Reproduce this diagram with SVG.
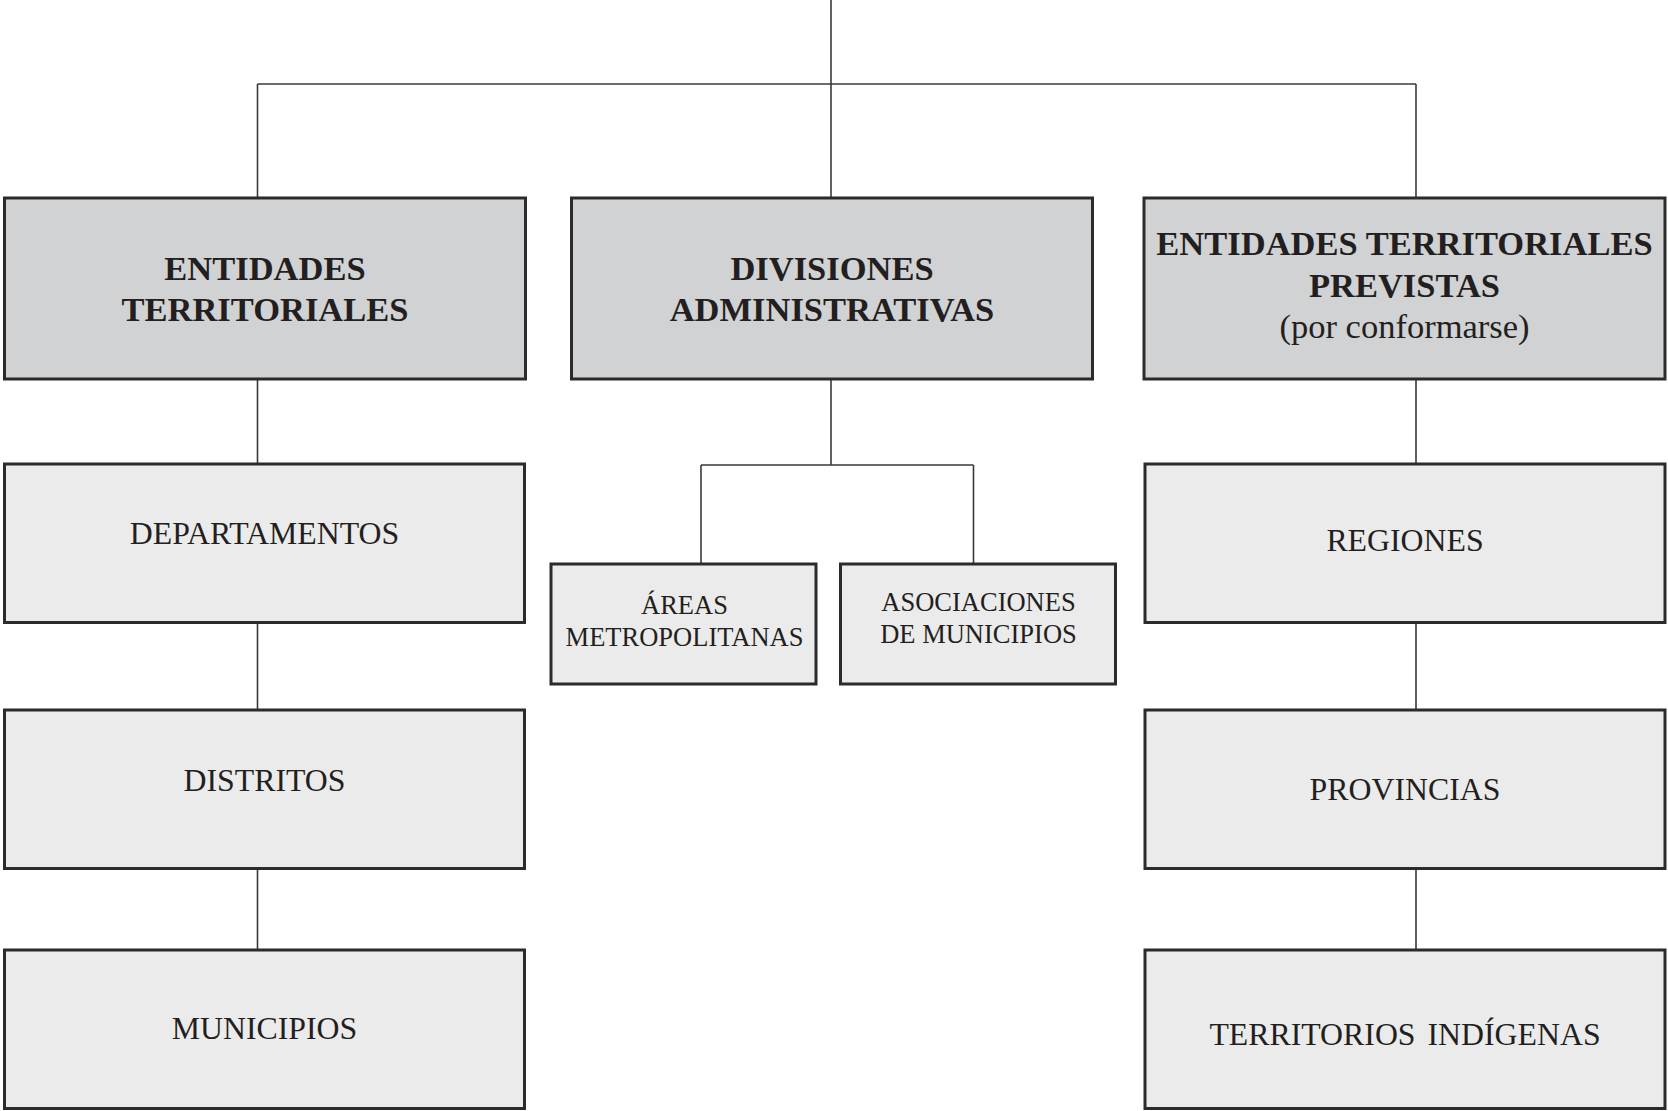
<svg xmlns="http://www.w3.org/2000/svg" width="1668" height="1111" viewBox="0 0 1668 1111">
  <style>
    .head { fill: #d1d2d4; stroke: #2b2b2b; stroke-width: 3; }
    .sub { fill: #ebebeb; stroke: #2b2b2b; stroke-width: 3; }
    .link { fill: none; stroke: #3a3a3a; stroke-width: 1.6; }
    text { font-family: "Liberation Serif", "Times New Roman", serif; fill: #231f20; text-anchor: middle; }
    .hb { font-size: 34.5px; font-weight: bold; }
    .hr { font-size: 34.5px; }
    .lv { font-size: 31.8px; }
    .sm { font-size: 26.5px; }
  </style>
  <rect width="1668" height="1111" fill="#ffffff"/>

  <!-- connectors -->
  <g id="connectors" class="link">
    <path d="M831 0 V198"/>
    <path d="M257.5 84 H1416"/>
    <path d="M257.5 84 V198"/>
    <path d="M1416 84 V198"/>
    <path d="M257.5 379 V464 M257.5 622 V710 M257.5 868 V950"/>
    <path d="M1416 379 V464 M1416 622 V710 M1416 868 V950"/>
    <path d="M831 379 V465 M701 465 H973.5 M701 465 V564 M973.5 465 V564"/>
  </g>

  <!-- top level -->
  <g id="entidades-territoriales">
    <rect class="head" x="4.5" y="198" width="521" height="181"/>
    <text class="hb" x="265" y="279.5">ENTIDADES</text>
    <text class="hb" x="265" y="320.5">TERRITORIALES</text>
  </g>
  <g id="divisiones-administrativas">
    <rect class="head" x="571.5" y="198" width="521" height="181"/>
    <text class="hb" x="832" y="279.5">DIVISIONES</text>
    <text class="hb" x="832" y="320.5">ADMINISTRATIVAS</text>
  </g>
  <g id="entidades-previstas">
    <rect class="head" x="1144" y="198" width="521" height="181"/>
    <text class="hb" x="1404.5" y="254.5">ENTIDADES TERRITORIALES</text>
    <text class="hb" x="1404.5" y="296.5">PREVISTAS</text>
    <text class="hr" x="1404.5" y="338">(por conformarse)</text>
  </g>

  <!-- left column -->
  <g id="departamentos">
    <rect class="sub" x="4.5" y="464" width="520" height="158.5"/>
    <text class="lv" x="264.5" y="543.5">DEPARTAMENTOS</text>
  </g>
  <g id="distritos">
    <rect class="sub" x="4.5" y="710" width="520" height="158.5"/>
    <text class="lv" x="264.5" y="790.5">DISTRITOS</text>
  </g>
  <g id="municipios">
    <rect class="sub" x="4.5" y="950" width="520" height="158.5"/>
    <text class="lv" x="264.5" y="1038.5">MUNICIPIOS</text>
  </g>

  <!-- middle branch -->
  <g id="areas-metropolitanas">
    <rect class="sub" x="551" y="564" width="265" height="120"/>
    <text class="sm" x="684.5" y="614">ÁREAS</text>
    <text class="sm" x="684.5" y="646">METROPOLITANAS</text>
  </g>
  <g id="asociaciones-municipios">
    <rect class="sub" x="840.5" y="564" width="275" height="120"/>
    <text class="sm" x="978.5" y="611">ASOCIACIONES</text>
    <text class="sm" x="978.5" y="643">DE MUNICIPIOS</text>
  </g>

  <!-- right column -->
  <g id="regiones">
    <rect class="sub" x="1145" y="464" width="520" height="158.5"/>
    <text class="lv" x="1405" y="551">REGIONES</text>
  </g>
  <g id="provincias">
    <rect class="sub" x="1145" y="710" width="520" height="158.5"/>
    <text class="lv" x="1405" y="800">PROVINCIAS</text>
  </g>
  <g id="territorios-indigenas">
    <rect class="sub" x="1145" y="950" width="520" height="158.5"/>
    <text class="lv" x="1405" y="1045" word-spacing="4">TERRITORIOS INDÍGENAS</text>
  </g>
</svg>
